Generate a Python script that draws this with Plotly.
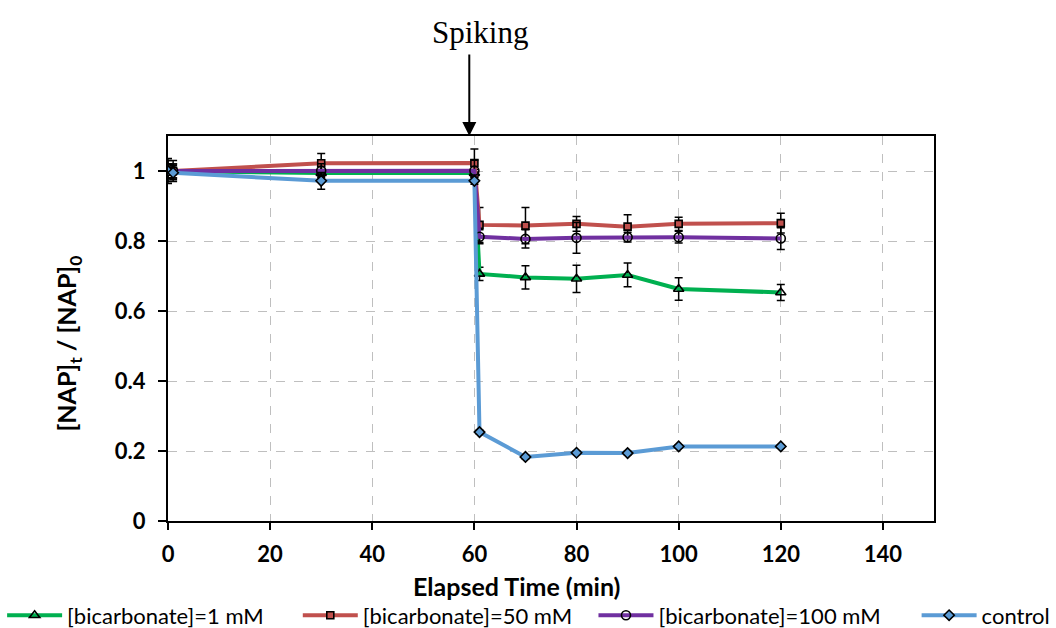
import plotly.graph_objects as go

# ---- data ----
t = [0, 1, 30, 60, 61, 70, 80, 90, 100, 120]

names = ["[bicarbonate]=1 mM", "[bicarbonate]=50 mM", "[bicarbonate]=100 mM", "control"]

y_1mM = [1.0, 1.0, 0.994, 0.994, 0.706, 0.696, 0.692, 0.703, 0.663, 0.653]
e_1mM = [0.036, 0.02, 0.01, 0.01, 0.019, 0.033, 0.039, 0.034, 0.032, 0.023]

y_50mM = [1.0, 1.0, 1.022, 1.023, 0.846, 0.844, 0.849, 0.841, 0.849, 0.851]
e_50mM = [0.02, 0.03, 0.028, 0.04, 0.05, 0.052, 0.021, 0.034, 0.019, 0.028]

y_100mM = [1.0, 1.0, 1.001, 1.001, 0.812, 0.806, 0.809, 0.811, 0.811, 0.807]
e_100mM = [0.02, 0.02, 0.02, 0.03, 0.02, 0.026, 0.044, 0.014, 0.017, 0.031]

y_ctrl = [1.0, 0.995, 0.972, 0.972, 0.254, 0.183, 0.195, 0.194, 0.213, 0.213]
e_ctrl = [0.03, 0.02, 0.024, 0.01, 0.005, 0.005, 0.005, 0.005, 0.005, 0.005]

colors = ["#00B050", "#C0504D", "#7030A0", "#5B9BD5"]
symbols = ["triangle-up-open", "square", "circle-open", "diamond"]
msizes = [9, 7, 9, 8]
series = [(y_1mM, e_1mM), (y_50mM, e_50mM), (y_100mM, e_100mM), (y_ctrl, e_ctrl)]

x_ticks = [0, 20, 40, 60, 80, 100, 120, 140]
y_ticks = [0, 0.2, 0.4, 0.6, 0.8, 1]

spike_time = 59

legend_ids = ["legend", "legend2", "legend3", "legend4"]
legend_x = [0.002, 0.282, 0.562, 0.868]

font_main = "Lato, 'Open Sans', sans-serif"

fig = go.Figure()
for name, col, sym, ms, (yv, ev), lid in zip(names, colors, symbols, msizes, series, legend_ids):
    fig.add_trace(go.Scatter(
        x=t, y=yv, name=name, mode="lines+markers", legend=lid,
        line=dict(color=col, width=4),
        marker=dict(symbol=sym, size=ms, color=col if "open" not in sym else "black",
                    line=dict(color="black", width=1.6)),
        error_y=dict(type="data", array=ev, visible=True, color="black",
                     thickness=1.5, width=4),
    ))

layout_legends = {}
for lid, lx in zip(legend_ids, legend_x):
    layout_legends[lid] = dict(
        xref="container", yref="container", x=lx, xanchor="left",
        y=0.02, yanchor="middle", orientation="h",
        font=dict(size=22, family=font_main), itemwidth=55,
        bgcolor="rgba(0,0,0,0)", borderwidth=0,
    )

fig.update_layout(
    width=1056, height=628,
    margin=dict(l=168, r=122, t=136, b=107, autoexpand=False),
    paper_bgcolor="white", plot_bgcolor="white",
    font=dict(family=font_main, color="black"),
    showlegend=True,
    xaxis=dict(range=[0, 150], tickvals=x_ticks, ticks="outside", ticklen=7,
               tickcolor="black", tickwidth=1.5, ticklabelstandoff=6,
               showline=True, linecolor="black", linewidth=2, mirror=True,
               showgrid=True, gridcolor="#BFBFBF", griddash="dash", gridwidth=1.2,
               zeroline=False,
               tickfont=dict(size=22, family=font_main, weight="bold")),
    yaxis=dict(range=[0, 1.1], tickvals=y_ticks, ticks="outside", ticklen=8,
               tickcolor="black", tickwidth=1.5, ticklabelstandoff=8,
               showline=True, linecolor="black", linewidth=2, mirror=True,
               showgrid=True, gridcolor="#BFBFBF", griddash="dash", gridwidth=1.2,
               zeroline=False,
               tickfont=dict(size=22, family=font_main, weight="bold")),
    **layout_legends,
)

# x-axis title
fig.add_annotation(
    xref="paper", yref="paper", x=0.455, y=-0.169,
    xanchor="center", yanchor="middle", showarrow=False,
    text="<b>Elapsed Time (min)</b>",
    font=dict(size=25, family=font_main, color="black"),
)

# y-axis title
fig.add_annotation(
    xref="paper", yref="paper", x=-0.13, y=0.462,
    xanchor="center", yanchor="middle", textangle=-90, showarrow=False,
    text="<b>[NAP]<sub>t</sub> / [NAP]<sub>0</sub></b>",
    font=dict(size=25, family=font_main, color="black"),
)

# spiking arrow
fig.add_annotation(
    x=spike_time, y=1.1, xref="x", yref="y",
    text="", showarrow=True,
    ax=0, ay=-83, axref="pixel", ayref="pixel",
    arrowhead=2, arrowsize=1.4, arrowwidth=2, arrowcolor="black",
)
fig.add_annotation(
    xref="paper", yref="paper", x=0.4073, y=1.27,
    xanchor="center", yanchor="middle", showarrow=False,
    text="Spiking",
    font=dict(family="'Liberation Serif', 'Times New Roman', serif", size=31, color="black"),
)

fig.write_html("out.html")
